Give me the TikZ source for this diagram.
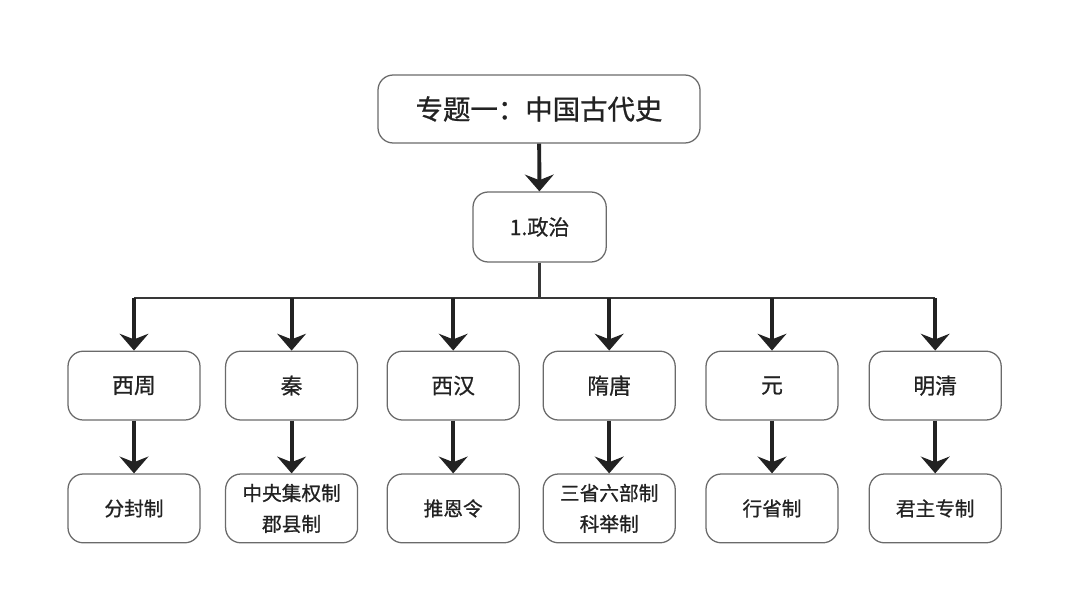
\documentclass[tikz,border=0pt]{standalone}
\usepackage{fontspec}
\setmainfont{Noto Sans CJK SC}[FakeBold=0.8]
\usetikzlibrary{arrows.meta,positioning}
\definecolor{inkc}{HTML}{222222}
\definecolor{edgec}{HTML}{6A6A6A}

\begin{document}
\begin{tikzpicture}[>={Stealth[length=0.42cm,width=0.72cm,inset=0.14cm]},
    every node/.style={align=center,text=inkc},
    box/.style={draw=edgec,line width=0.9pt,rounded corners=0.38cm,fill=white},
    drop/.style={->,line width=2.8pt,draw=inkc},
    busline/.style={line width=1.6pt,draw=inkc!90}]
    \useasboundingbox (0,0) rectangle (27,-14.75);
    % title and branch
    \node[box,minimum width=8.05cm,minimum height=1.70cm,font=\fontsize{19.5}{24}\selectfont] (title) at (13.475,-2.725)
      {专题一：中国古代史};
    \node[box,minimum width=3.33cm,minimum height=1.75cm,font=\fontsize{15}{19}\selectfont] (politics) at (13.49,-5.675)
      {1.政治};
    \draw[drop] (title) -- (politics);
    \coordinate (bus) at (13.49,-7.45);
    % dynasties
    \node[box,minimum width=3.30cm,minimum height=1.72cm,font=\fontsize{15.5}{19}\selectfont] (zhou) at (3.35,-9.64) {西周};
    \node[box,minimum width=3.30cm,minimum height=1.72cm,font=\fontsize{15.5}{19}\selectfont] (qin) at (7.29,-9.64) {秦};
    \node[box,minimum width=3.30cm,minimum height=1.72cm,font=\fontsize{15.5}{19}\selectfont] (han) at (11.33,-9.64) {西汉};
    \node[box,minimum width=3.30cm,minimum height=1.72cm,font=\fontsize{15.5}{19}\selectfont] (suitang) at (15.23,-9.64) {隋唐};
    \node[box,minimum width=3.30cm,minimum height=1.72cm,font=\fontsize{15.5}{19}\selectfont] (yuan) at (19.30,-9.64) {元};
    \node[box,minimum width=3.30cm,minimum height=1.72cm,font=\fontsize{15.5}{19}\selectfont] (mingqing) at (23.38,-9.64) {明清};
    % systems
    \node[box,minimum width=3.30cm,minimum height=1.72cm,font=\fontsize{14}{22}\selectfont] (fenfeng) at (3.35,-12.71) {分封制};
    \node[box,minimum width=3.30cm,minimum height=1.72cm,font=\fontsize{14}{22}\selectfont] (junxian) at (7.29,-12.71) {中央集权制\\郡县制};
    \node[box,minimum width=3.30cm,minimum height=1.72cm,font=\fontsize{14}{22}\selectfont] (tuien) at (11.33,-12.71) {推恩令};
    \node[box,minimum width=3.30cm,minimum height=1.72cm,font=\fontsize{14}{22}\selectfont] (sansheng) at (15.23,-12.71) {三省六部制\\科举制};
    \node[box,minimum width=3.30cm,minimum height=1.72cm,font=\fontsize{14}{22}\selectfont] (xingsheng) at (19.30,-12.71) {行省制};
    \node[box,minimum width=3.30cm,minimum height=1.72cm,font=\fontsize{14}{22}\selectfont] (junzhu) at (23.38,-12.71) {君主专制};
    % connectors
    \draw[busline] (politics) -- (bus);
    \draw[busline] (zhou |- bus) -- (mingqing |- bus);
    \foreach \n in {zhou,qin,han,suitang,yuan,mingqing}
      \draw[drop] (\n |- bus) -- (\n);
    \foreach \a/\b in {zhou/fenfeng,qin/junxian,han/tuien,suitang/sansheng,yuan/xingsheng,mingqing/junzhu}
      \draw[drop] (\a) -- (\b);
  \end{tikzpicture}
\end{document}
